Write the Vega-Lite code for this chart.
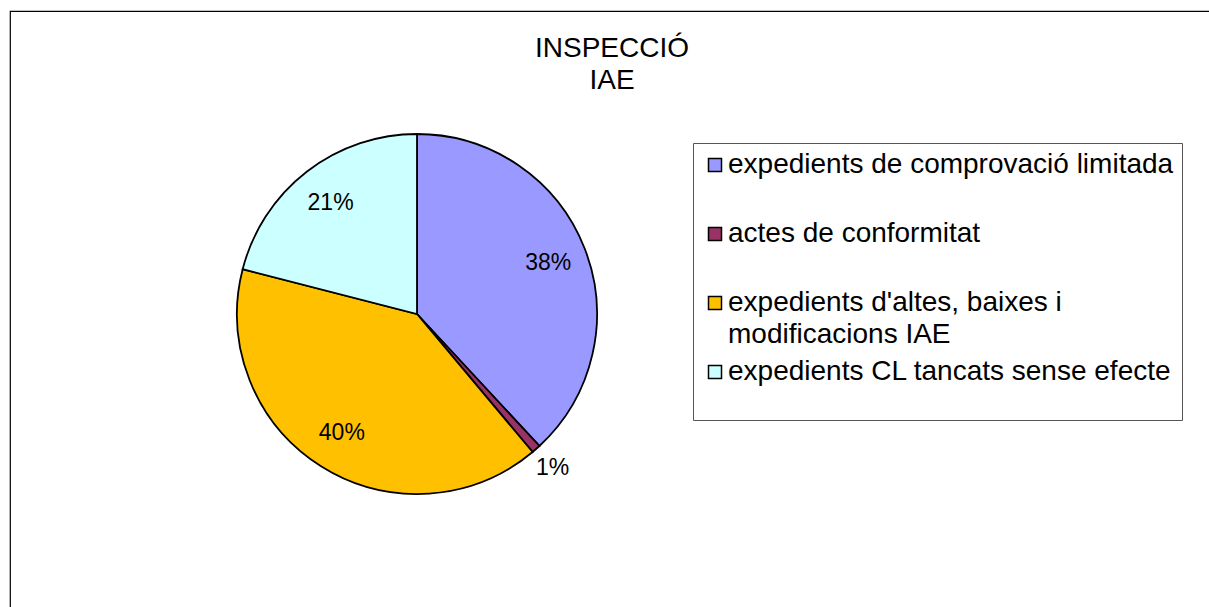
{
  "$schema": "https://vega.github.io/schema/vega-lite/v6.json",
  "width": 1210,
  "height": 610,
  "autosize": "none",
  "padding": {"left": 10, "top": 11, "right": 0, "bottom": 0},
  "background": "white",
  "view": {"stroke": "black", "strokeWidth": 1.2, "fill": "white"},
  "config": {
    "view": {"stroke": "black", "strokeWidth": 1.2},
    "font": "Liberation Sans"
  },
  "title": {
    "text": ["INSPECCIÓ", "IAE"],
    "font": "Liberation Sans",
    "fontSize": 28,
    "fontWeight": "normal",
    "color": "black",
    "anchor": "middle",
    "baseline": "top",
    "lineHeight": 32,
    "offset": -84,
    "dx": -3
  },
  "data": {
    "values": [
      {"cat": "expedients de comprovació limitada", "value": 38.1, "label": "38%", "idx": 1},
      {"cat": "actes de conformitat", "value": 0.8, "label": "1%", "idx": 2},
      {"cat": "expedients d'altes, baixes i modificacions IAE", "value": 40.1, "label": "40%", "idx": 3},
      {"cat": "expedients CL tancats sense efecte", "value": 21.0, "label": "21%", "idx": 4}
    ]
  },
  "layer": [
    {
      "mark": {"type": "arc", "x": 407, "y": 303, "outerRadius": 180, "stroke": "black", "strokeWidth": 1.8},
      "encoding": {
        "theta": {"field": "value", "type": "quantitative", "stack": true},
        "order": {"field": "idx", "type": "quantitative"},
        "color": {
          "field": "cat",
          "type": "nominal",
          "sort": null,
          "scale": {
            "domain": ["expedients de comprovació limitada", "actes de conformitat", "expedients d'altes, baixes i modificacions IAE", "expedients CL tancats sense efecte"],
            "range": ["#9999FF", "#993366", "#FFC000", "#CCFFFF"]
          },
          "legend": {
            "title": " ",
            "titleOrient": "bottom",
            "titleFontSize": 20,
            "titlePadding": 6,
            "orient": "none",
            "legendX": 683,
            "legendY": 132,
            "padding": 8,
            "strokeColor": "#555555",
            "fillColor": "white",
            "cornerRadius": 0,
            "symbolType": "square",
            "symbolSize": 169,
            "symbolStrokeColor": "black",
            "symbolStrokeWidth": 1.5,
            "symbolOpacity": 1,
            "labelFont": "Liberation Sans",
            "labelFontSize": 28,
            "labelColor": "black",
            "labelLimit": 800,
            "labelOffset": -1,
            "labelBaseline": "alphabetic",
            "rowPadding": 9,
            "gridAlign": "all",
            "labelExpr": "indexof(datum.label, 'altes') >= 0 ? [\"expedients d'altes, baixes i\", \"modificacions IAE\"] : datum.label",
            "encode": {"labels": {"update": {"dy": {"value": 8}, "lineHeight": {"value": 32}}}}
          }
        }
      }
    },
    {
      "mark": {
        "type": "text",
        "x": 407,
        "y": 303,
        "radius": {"expr": "datum.value < 5 ? 205 : 141"},
        "fontSize": 23,
        "font": "Liberation Sans",
        "color": "black",
        "align": "center",
        "baseline": "middle"
      },
      "encoding": {
        "theta": {"field": "value", "type": "quantitative", "stack": true},
        "order": {"field": "idx", "type": "quantitative"},
        "text": {"field": "label", "type": "nominal"}
      }
    }
  ]
}
